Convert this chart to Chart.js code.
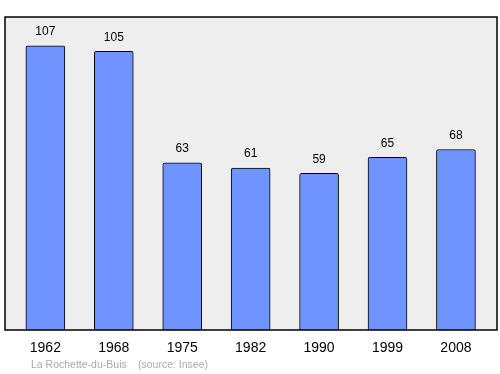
<!DOCTYPE html>
<html>
<head>
<meta charset="utf-8">
<script src="https://cdn.jsdelivr.net/npm/chart.js@4/dist/chart.umd.min.js"></script>
<style>
  html, body { margin: 0; padding: 0; background: #fff; }
  #wrap { width: 500px; height: 374px; }
</style>
</head>
<body>
<div id="wrap"><canvas id="c"></canvas></div>
<script>
// population by census year
const years = ['1962', '1968', '1975', '1982', '1990', '1999', '2008'];
const population = [107, 105, 63, 61, 59, 65, 68];
const commune = 'La Rochette-du-Buis';
const source = '(source: Insee)';

// plot frame with grey fill, drawn behind the bars
const framePlugin = {
  id: 'frame',
  beforeDatasetsDraw(chart) {
    const { ctx, chartArea: a } = chart;
    ctx.save();
    ctx.fillStyle = '#eeeeee';
    ctx.fillRect(a.left, a.top, a.right - a.left, a.bottom - a.top);
    ctx.restore();
  },
  afterDatasetsDraw(chart) {
    const { ctx, chartArea: a } = chart;
    ctx.save();
    ctx.strokeStyle = '#000';
    ctx.lineWidth = 1.5;
    ctx.strokeRect(a.left, a.top, a.right - a.left, a.bottom - a.top);
    ctx.restore();
  }
};

// numbers above the bars + source line
const labelPlugin = {
  id: 'labels',
  afterDraw(chart) {
    const { ctx } = chart;
    const meta = chart.getDatasetMeta(0);
    ctx.save();
    ctx.fillStyle = '#000';
    ctx.font = '12px "Liberation Sans", Arial, sans-serif';
    ctx.textAlign = 'center';
    ctx.textBaseline = 'middle';
    meta.data.forEach((bar, i) => {
      ctx.fillText(String(population[i]), bar.x, bar.y - 14);
    });
    ctx.fillStyle = '#aaaaaa';
    ctx.font = '10.5px "Liberation Sans", Arial, sans-serif';
    ctx.textAlign = 'left';
    ctx.fillText(commune, 31, 365);
    ctx.fillText(source, 138, 365);
    ctx.restore();
  }
};

new Chart(document.getElementById('c'), {
  type: 'bar',
  data: {
    datasets: [{
      data: population.map((v, i) => ({ x: i, y: v })),
      backgroundColor: '#7094ff',
      borderColor: '#000',
      borderWidth: 1,
      borderRadius: 2,
      borderSkipped: 'bottom',
      barThickness: 39
    }]
  },
  options: {
    responsive: true,
    maintainAspectRatio: false,
    animation: false,
    layout: { padding: { left: 5, right: 3, top: 17, bottom: 0 } },
    plugins: { legend: { display: false }, tooltip: { enabled: false } },
    scales: {
      x: {
        type: 'linear',
        offset: false,
        min: -0.59,
        max: 6.6,
        grid: { display: false, drawTicks: false },
        border: { display: false },
        afterFit(scale) { scale.height = 44; },
        ticks: {
          stepSize: 1,
          includeBounds: false,
          autoSkip: false,
          maxRotation: 0,
          padding: 10,
          color: '#000',
          font: { family: '"Liberation Sans", Arial, sans-serif', size: 14 },
          callback: v => Number.isInteger(v) ? years[v] : ''
        }
      },
      y: {
        display: false,
        min: 0,
        max: 117.9
      }
    }
  },
  plugins: [framePlugin, labelPlugin]
});
</script>
</body>
</html>
